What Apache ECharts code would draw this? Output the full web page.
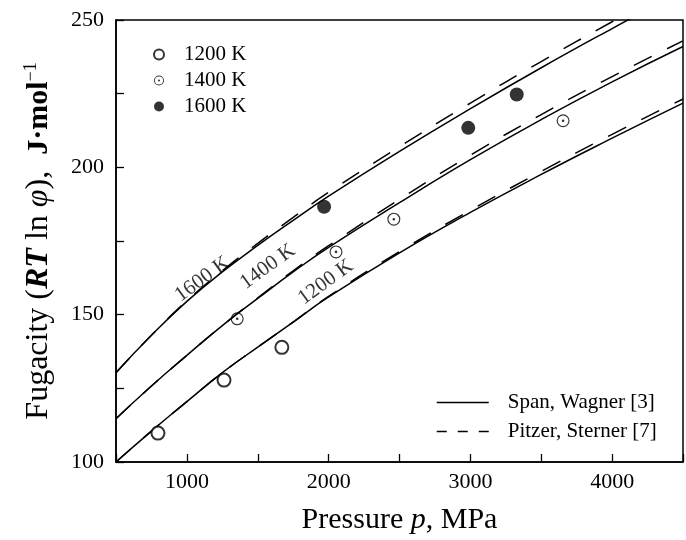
<!DOCTYPE html>
<html>
<head>
<meta charset="utf-8">
<script src="https://cdn.jsdelivr.net/npm/echarts@6/dist/echarts.min.js"></script>
<style>html,body{margin:0;padding:0;background:#fff;}#c{width:686px;height:540px;}</style>
</head>
<body>
<div id="c"></div>
<script>
// ---- data ----
const pressure = [500, 750, 1000, 1250, 1500, 1750, 2000, 2500, 3000, 3500, 4000, 4500];
// Span, Wagner [3]
const sw1200 = [100, 110.5, 120.5, 130.3, 139, 147.5, 156, 171, 184.7, 197.6, 209.9, 221.8];
const sw1400 = [114.7, 125.8, 136.2, 146.3, 155.5, 164.5, 172.8, 188, 202.6, 216.2, 229, 241];
const sw1600 = [130.3, 143, 154.5, 164.5, 173.5, 182, 190.2, 205.4, 219.9, 233.8, 247.1, 260];
// Pitzer, Sterner [7]
const ps1200 = [100, 110.5, 120.5, 130.3, 139, 147.5, 156.2, 171.4, 185.4, 198.6, 211.2, 223.2];
const ps1400 = [114.7, 125.8, 136.2, 146.3, 155.7, 164.9, 173.4, 189.1, 204.1, 217.9, 230.8, 242.9];
const ps1600 = [130.3, 143, 154.7, 164.9, 174.2, 183, 191.5, 207, 221.8, 235.9, 249.4, 262.4];
// measured points
const exp1200P = [796, 1262, 1670];
const exp1200V = [109.8, 127.8, 138.9];
const exp1400P = [1355, 2052, 2460, 3654];
const exp1400V = [148.6, 171.3, 182.4, 215.8];
const exp1600P = [1968, 2985, 3327];
const exp1600V = [186.6, 213.4, 224.7];
// curve labels
const curveLabelText = ['1600 K', '1400 K', '1200 K'];
const curveLabelP = [1110, 1570, 1980];
const curveLabelV = [162, 166.3, 161];
// axis ticks
const xTickLabels = [1000, 2000, 3000, 4000];
const yTickLabels = [100, 150, 200, 250];

const FONT = '"Liberation Serif", "Times New Roman", serif';
const zip = (a, b) => a.map((x, i) => [x, b[i]]);

const ringDot = 'path://M10,0 A10,10 0 1,1 10,20 A10,10 0 1,1 10,0 Z M10,1.8 A8.2,8.2 0 1,0 10,18.2 A8.2,8.2 0 1,0 10,1.8 Z M10,8 A2,2 0 1,1 10,12 A2,2 0 1,1 10,8 Z';

function lineSeries(name, vals, dashed) {
  return {
    name: name, type: 'line', data: zip(pressure, vals), smooth: true,
    symbol: 'none', clip: true, silent: true,
    itemStyle: { color: 'transparent', opacity: 0 },
    lineStyle: { color: '#000', width: 1.5, type: dashed ? [20, 17] : 'solid' },
    z: dashed ? 3 : 2
  };
}

const chart = echarts.init(document.getElementById('c'), null, { renderer: 'canvas' });
chart.setOption({
  animation: false,
  backgroundColor: '#fff',
  grid: { left: 116, top: 20, width: 572, height: 451, show: true, borderColor: '#000', borderWidth: 1.5, backgroundColor: 'transparent' },
  xAxis: {
    type: 'value', min: 500, max: 4500, interval: 500,
    name: '{n|Pressure }{i|p}{n|, MPa}', nameLocation: 'middle', nameGap: 43,
    nameTextStyle: { rich: {
      n: { fontFamily: FONT, fontSize: 30, color: '#000' },
      i: { fontFamily: FONT, fontSize: 30, fontStyle: 'italic', color: '#000' } } },
    axisLine: { lineStyle: { color: '#000', width: 1.5 } },
    axisTick: { inside: true, length: 8, lineStyle: { color: '#000', width: 1.3 } },
    axisLabel: { margin: 9, fontFamily: FONT, fontSize: 22, color: '#000',
      formatter: v => xTickLabels.indexOf(v) >= 0 ? String(v) : '' },
    splitLine: { show: false }
  },
  yAxis: {
    type: 'value', min: 100, max: 250, interval: 25,
    name: '{n|Fugacity (}{bi|RT}{n| ln }{i|φ}{n|),  }{b|J·mol}{sup|−1}',
    nameLocation: 'middle', nameRotate: 90, nameGap: 60,
    nameTextStyle: { rich: {
      n: { fontFamily: FONT, fontSize: 32, color: '#000' },
      i: { fontFamily: FONT, fontSize: 32, fontStyle: 'italic', color: '#000' },
      bi: { fontFamily: FONT, fontSize: 32, fontStyle: 'italic', fontWeight: 'bold', color: '#000' },
      b: { fontFamily: FONT, fontSize: 30, fontWeight: 'bold', color: '#000' },
      sup: { fontFamily: FONT, fontSize: 18, color: '#000', padding: [0, 0, 16, 0] } } },
    axisLine: { lineStyle: { color: '#000', width: 1.5 } },
    axisTick: { inside: true, length: 8, lineStyle: { color: '#000', width: 1.3 } },
    axisLabel: { margin: 12, fontFamily: FONT, fontSize: 22, color: '#000',
      formatter: v => yTickLabels.indexOf(v) >= 0 ? String(v) : '' },
    splitLine: { show: false }
  },
  legend: [
    { orient: 'vertical', left: 148, top: 39, itemWidth: 40, itemHeight: 10, itemGap: 5,
      textStyle: { fontFamily: FONT, fontSize: 21, color: '#000' },
      data: ['1200 K', '1400 K', '1600 K'], selectedMode: false },
    { orient: 'vertical', left: 431, top: 387, itemWidth: 52, itemHeight: 10, itemGap: 8,
      textStyle: { fontFamily: FONT, fontSize: 21, color: '#000', padding: [0, 0, 0, 14] },
      data: [ { name: 'Span, Wagner [3]', itemStyle: { opacity: 0 }, lineStyle: { type: 'solid', width: 1.5, color: '#000' } },
              { name: 'Pitzer, Sterner [7]', itemStyle: { opacity: 0 }, lineStyle: { type: [10, 11], width: 1.5, color: '#000' } } ],
      selectedMode: false }
  ],
  series: [
    lineSeries('Span, Wagner [3]', sw1200, false),
    lineSeries('Span, Wagner [3]', sw1400, false),
    lineSeries('Span, Wagner [3]', sw1600, false),
    lineSeries('Pitzer, Sterner [7]', ps1200, true),
    lineSeries('Pitzer, Sterner [7]', ps1400, true),
    lineSeries('Pitzer, Sterner [7]', ps1600, true),
    { name: '1200 K', type: 'scatter', data: zip(exp1200P, exp1200V), symbol: 'emptyCircle', symbolSize: 13,
      itemStyle: { color: '#000', borderColor: '#000', borderWidth: 1.3 }, z: 5 },
    { name: '1400 K', type: 'scatter', data: zip(exp1400P, exp1400V), symbol: ringDot, symbolSize: 13,
      itemStyle: { color: '#000' }, z: 5 },
    { name: '1600 K', type: 'scatter', data: zip(exp1600P, exp1600V), symbol: 'circle', symbolSize: 14,
      itemStyle: { color: '#000' }, z: 5 },
    { name: 'curveLabels', type: 'scatter', silent: true, symbolSize: 1,
      itemStyle: { color: 'transparent' },
      data: curveLabelText.map((t, i) => ({ name: t, value: [curveLabelP[i], curveLabelV[i]] })),
      label: { show: true, position: 'inside', formatter: p => p.name, rotate: 36,
        fontFamily: FONT, fontSize: 21, color: '#000' }, z: 6 }
  ]
});
</script>
</body>
</html>
